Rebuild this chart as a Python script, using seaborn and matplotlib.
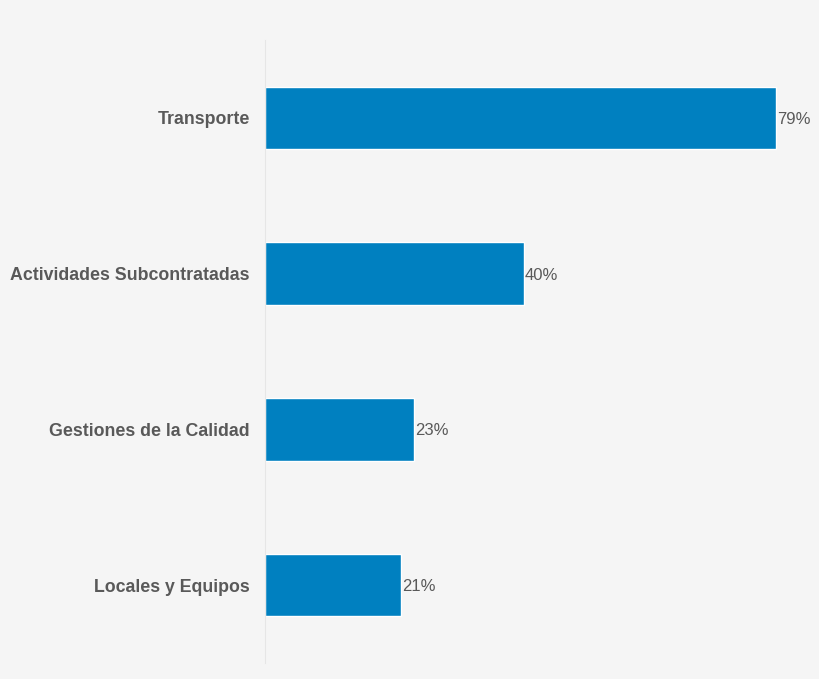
import pandas as pd
import matplotlib.pyplot as plt
import seaborn as sns

# data
categories = ["Transporte", "Actividades Subcontratadas",
              "Gestiones de la Calidad", "Locales y Equipos"]
values = [79, 40, 23, 21]

df = pd.DataFrame({"categoria": categories, "valor": values})

BG = "#f5f5f5"
BAR = "#0080c0"
TXT = "#595959"

sns.set_theme(style="white")
plt.rcParams["font.family"] = ["Liberation Sans", "DejaVu Sans"]

fig = plt.figure(figsize=(8.2, 6.79), dpi=100, facecolor=BG)
ax = fig.add_axes([265 / 820, 16 / 679, 555 / 820, 623 / 679])
ax.set_facecolor(BG)

sns.barplot(data=df, x="valor", y="categoria", color=BAR, width=0.4,
            saturation=1, ax=ax)

for i, v in enumerate(values):
    ax.text(v + 0.2, i, f"{v}%", va="center_baseline", ha="left",
            fontsize=12, color=TXT)

ax.set_xlim(0, 555 / 6.47)
ax.set_ylim(3.5, -0.5)
ax.set_xlabel("")
ax.set_ylabel("")
ax.set_xticks([])
ax.tick_params(axis="y", length=0, pad=11)
for lab in ax.get_yticklabels():
    lab.set_fontweight("bold")
    lab.set_fontsize(12.8)
    lab.set_color(TXT)

for side in ["top", "right", "bottom"]:
    ax.spines[side].set_visible(False)
ax.spines["left"].set_color("#e6e6e6")
ax.spines["left"].set_linewidth(0.8)

fig.savefig("out.png", dpi=100, facecolor=BG)
